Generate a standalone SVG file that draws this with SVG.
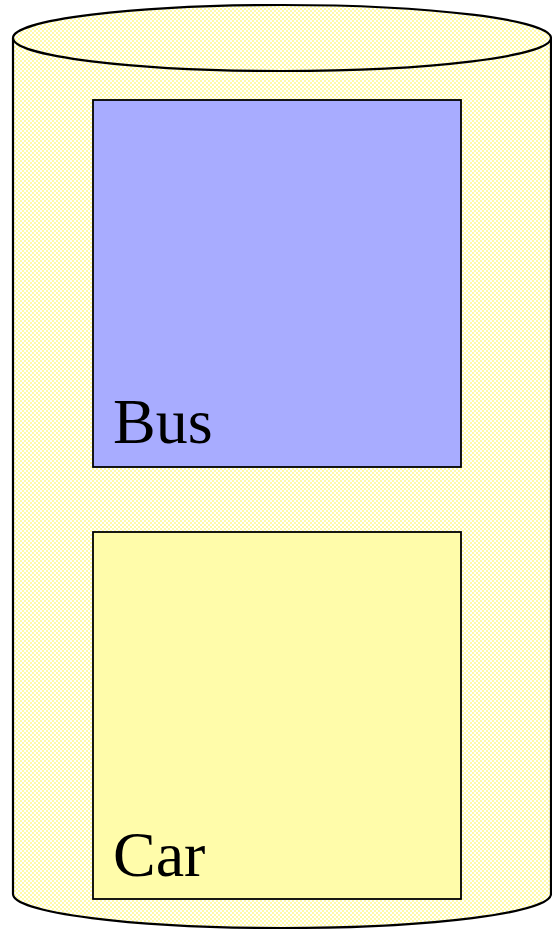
<svg xmlns="http://www.w3.org/2000/svg" width="552" height="929" viewBox="0 0 552 929">
<defs>
<pattern id="chk" width="4" height="4" patternUnits="userSpaceOnUse">
<rect width="4" height="4" fill="#ffffff"/>
<rect x="0" y="0" width="2" height="2" fill="#fffaa8"/>
<rect x="2" y="2" width="2" height="2" fill="#fffaa8"/>
</pattern>
</defs>
<style>
.outline{stroke:#000;stroke-width:2.2;}
.box{stroke:#000;stroke-width:1.8;}
.lbl{font-family:"Liberation Serif","Times New Roman",serif;font-size:64px;fill:#000;}
</style>
<g id="cylinder">
<path class="outline" d="M13,38 L13,894 A269,34 0 0 0 551,894 L551,38" fill="url(#chk)"/>
<ellipse class="outline" cx="282" cy="38" rx="269" ry="33" fill="url(#chk)"/>
</g>
<g id="bus">
<rect class="box" x="93" y="100" width="368" height="367" fill="#a8acff"/>
<text class="lbl" x="113" y="443">Bus</text>
</g>
<g id="car">
<rect class="box" x="93" y="532" width="368" height="367" fill="#fffcaa"/>
<text class="lbl" x="113" y="876">Car</text>
</g>
<g id="connectors"/>
</svg>
